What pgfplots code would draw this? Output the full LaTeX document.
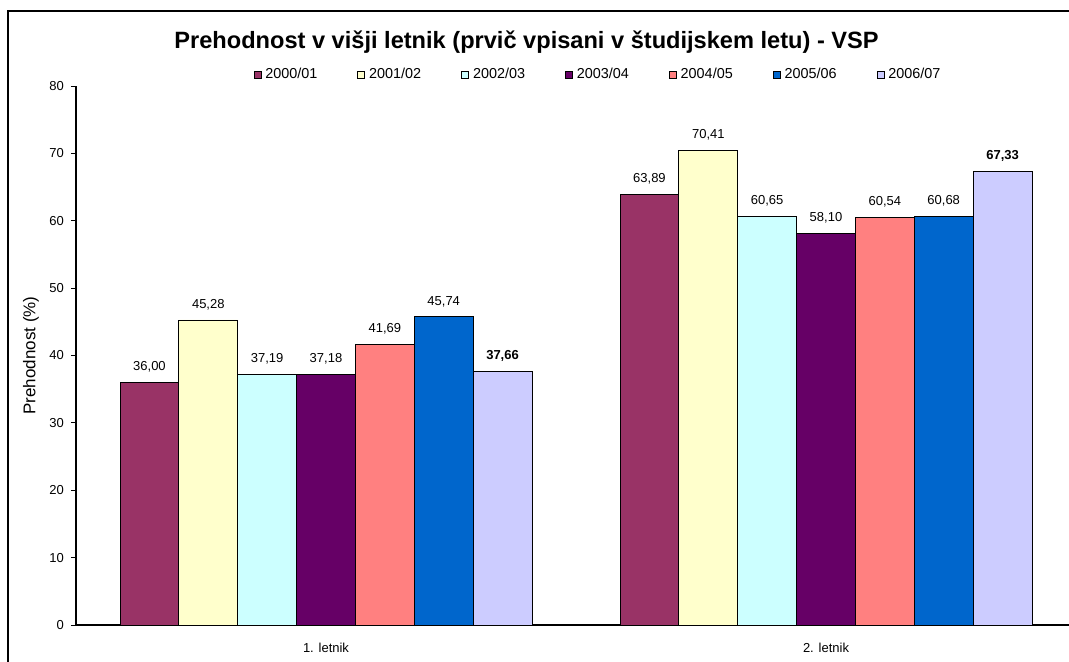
\documentclass[border=0pt]{standalone}
\usepackage{pgfplots}
\pgfplotsset{compat=1.18}
\usepackage{fontspec}
\setmainfont{Liberation Sans}
\definecolor{cA}{HTML}{993366}
\definecolor{cB}{HTML}{FFFFCC}
\definecolor{cC}{HTML}{CCFFFF}
\definecolor{cD}{HTML}{660066}
\definecolor{cE}{HTML}{FF8080}
\definecolor{cF}{HTML}{0066CC}
\definecolor{cG}{HTML}{CCCCFF}
\begin{document}
\begin{tikzpicture}
\path[use as bounding box] (0,0) rectangle (534.5pt,-331pt);
\draw[line width=0.8pt] (4pt,-5.5pt) rectangle (560pt,-360pt);
\begin{axis}[
  at={(38pt,-312.5pt)}, anchor=south west,
  scale only axis, width=500pt, height=269.5pt,
  ybar=0pt, bar width=0.1177,
  xmin=0.5, xmax=2.5, ymin=0, ymax=80,
  ytick={0,10,...,80},
  xtick={1,2}, xticklabels={1. letnik, 2. letnik},
  major x tick style={draw=none},
  extra x ticks={0.5,1.5,2.5}, extra x tick labels={},
  extra x tick style={tick style={draw=black!60, thin}},
  axis lines*=left, tick align=outside, major tick length=2.5pt,
  axis line style={black, line width=0.6pt},
  ytick style={black, line width=0.5pt},
  tick label style={font=\fontsize{6.5}{8}\selectfont},
  /pgf/number format/assume math mode=true,
  xticklabel style={yshift=-3pt},
  ylabel={Prehodnost (\%)},
  ylabel style={at={(axis description cs:-0.045,0.5)}, anchor=center, font=\fontsize{8.5}{10}\selectfont},
  every axis title shift=0pt,
  title={Prehodnost v višji letnik (prvič vpisani v študijskem letu) - VSP},
  title style={at={(axis description cs:0.4505,1.0816)}, anchor=center, yshift=0pt, font=\fontsize{11.8}{13}\selectfont\bfseries},
  legend columns=7,
  legend style={at={(axis description cs:0.523,1.0215)}, anchor=center, draw=none, fill=none,
    font=\fontsize{7.2}{8}\selectfont, inner sep=0pt,
    /tikz/every even column/.append style={column sep=18pt}},
  legend image code/.code={\draw[#1, draw=black, line width=0.4pt] (0pt,-1.75pt) rectangle (3.5pt,1.75pt);},
  nodes near coords={\pgfmathprintnumber[fixed,fixed zerofill,precision=2,use comma]{\pgfplotspointmeta}},
  nodes near coords align={vertical},
  every node near coord/.append style={font=\fontsize{6.5}{8}\selectfont, yshift=1.5pt},
]
\addplot[fill=cA, draw=black, line width=0.4pt] coordinates {(1,36.00) (2,63.89)};
\addlegendentry{2000/01}
\addplot[fill=cB, draw=black, line width=0.4pt] coordinates {(1,45.28) (2,70.41)};
\addlegendentry{2001/02}
\addplot[fill=cC, draw=black, line width=0.4pt] coordinates {(1,37.19) (2,60.65)};
\addlegendentry{2002/03}
\addplot[fill=cD, draw=black, line width=0.4pt] coordinates {(1,37.18) (2,58.10)};
\addlegendentry{2003/04}
\addplot[fill=cE, draw=black, line width=0.4pt] coordinates {(1,41.69) (2,60.54)};
\addlegendentry{2004/05}
\addplot[fill=cF, draw=black, line width=0.4pt] coordinates {(1,45.74) (2,60.68)};
\addlegendentry{2005/06}
\addplot[fill=cG, draw=black, line width=0.4pt,
  every node near coord/.append style={font=\fontsize{6.5}{8}\selectfont\bfseries}] coordinates {(1,37.66) (2,67.33)};
\addlegendentry{2006/07}
\end{axis}
\end{tikzpicture}
\end{document}
